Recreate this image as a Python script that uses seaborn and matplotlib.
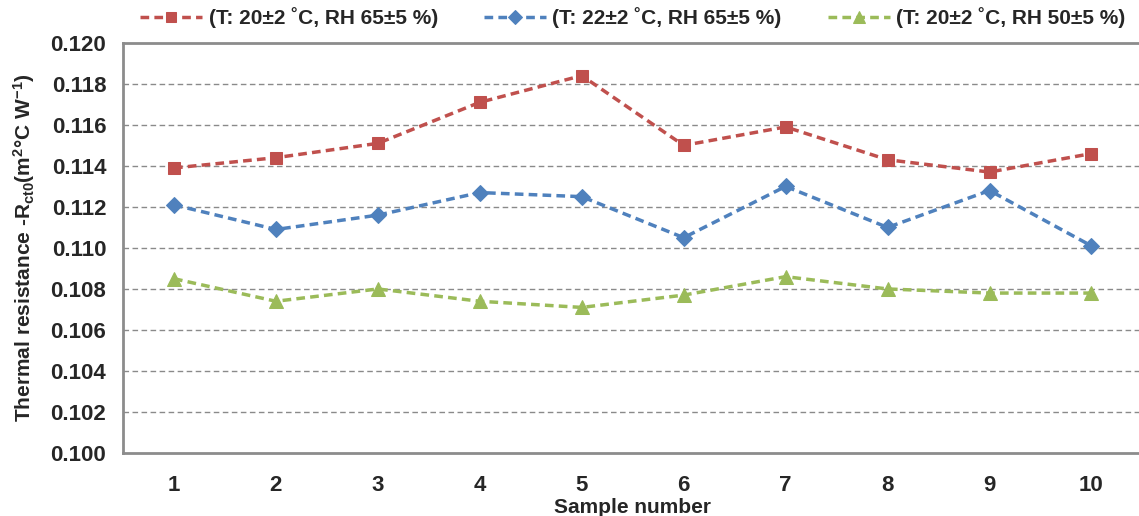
import pandas as pd
import numpy as np
import matplotlib
matplotlib.use('Agg')
import matplotlib.pyplot as plt
import seaborn as sns

samples = [1, 2, 3, 4, 5, 6, 7, 8, 9, 10]
labels = ['(T: 20±2 ˚C, RH 65±5 %)', '(T: 22±2 ˚C, RH 65±5 %)', '(T: 20±2 ˚C, RH 50±5 %)']
red_vals = [0.1139, 0.1144, 0.1151, 0.1171, 0.1184, 0.1150, 0.1159, 0.1143, 0.1137, 0.1146]
blue_vals = [0.1121, 0.1109, 0.1116, 0.1127, 0.1125, 0.1105, 0.1130, 0.1110, 0.1128, 0.1101]
green_vals = [0.1085, 0.1074, 0.1080, 0.1074, 0.1071, 0.1077, 0.1086, 0.1080, 0.1078, 0.1078]
colors = ['#C0504D', '#4F81BD', '#9BBB59']
markers = ['s', 'D', '^']
msizes = [9, 8, 10]

sns.set_style("white")
plt.rcParams['font.family'] = ['Liberation Sans', 'DejaVu Sans']
plt.rcParams['font.weight'] = 'bold'
plt.rcParams['mathtext.fontset'] = 'custom'
plt.rcParams['mathtext.rm'] = 'Liberation Sans:bold'
plt.rcParams['mathtext.default'] = 'rm'

fig = plt.figure(figsize=(11.39, 5.16), dpi=100)
ax = fig.add_axes([0.108, 0.122, 0.895, 0.795])

for vals, lab, c, m, ms in zip([red_vals, blue_vals, green_vals], labels, colors, markers, msizes):
    sns.lineplot(x=samples, y=vals, ax=ax, color=c, marker=m, markersize=ms,
                 markeredgecolor=c, linestyle='--', linewidth=2.5, label=lab,
                 dashes=False)
    ax.lines[-1].set_linestyle((0, (2.5, 1.5)))

ax.set_xlim(0.5, 10.5)
ax.set_ylim(0.100, 0.120)
ax.set_xticks(samples)
ax.set_yticks(np.arange(0.100, 0.1201, 0.002))
ax.set_yticklabels([f'{v:.3f}' for v in np.arange(0.100, 0.1201, 0.002)])
ax.tick_params(axis='y', length=0, labelsize=16, pad=12)
ax.tick_params(axis='x', length=0, labelsize=16, pad=16)
for t in ax.get_xticklabels() + ax.get_yticklabels():
    t.set_fontweight('bold')

for v in np.arange(0.102, 0.1195, 0.002):
    ax.axhline(v, color='#8a8a8a', linestyle=(0, (4, 2.5)), linewidth=1.0, zorder=0)

for s in ['left', 'top', 'bottom']:
    ax.spines[s].set_color('#8c8c8c')
    ax.spines[s].set_linewidth(2)
ax.spines['right'].set_visible(False)

ax.set_xlabel('Sample number', fontsize=15, fontweight='bold', labelpad=1)
ax.set_ylabel(r'Thermal resistance -R$_{ct0}$(m$^{2}$°C W$^{-1}$)', fontsize=15,
              fontweight='bold', labelpad=10)

leg = ax.legend(loc='lower center', bbox_to_anchor=(0.5, 1.0), ncol=3, frameon=False,
                fontsize=15, handlelength=3.0, columnspacing=2.2, handletextpad=0.3,
                borderaxespad=0.3, markerscale=0.85)
for t in leg.get_texts():
    t.set_fontweight('bold')

plt.savefig('out.png', dpi=100)
